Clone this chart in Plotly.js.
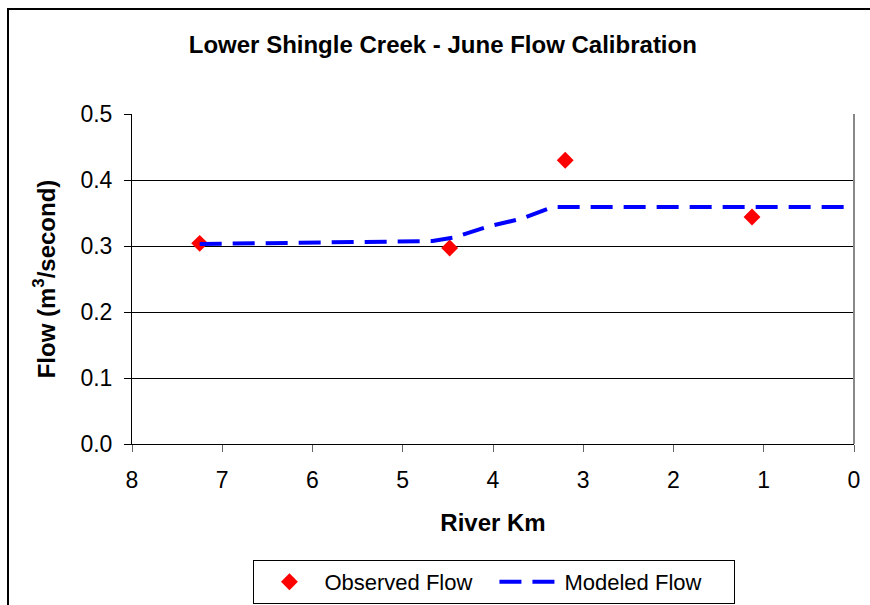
<!DOCTYPE html>
<html>
<head>
<meta charset="utf-8">
<script src="https://cdn.plot.ly/plotly-3.0.1.min.js"></script>
<style>html,body{margin:0;padding:0;background:#fff;}#chart{width:870px;height:605px;}</style>
</head>
<body>
<div id="chart"></div>
<script>
// Observed flow (river km, m3/s)
const observedKm = [7.25, 4.48, 3.20, 1.13];
const observedFlow = [0.304, 0.297, 0.430, 0.344];

// Modeled flow (river km, m3/s)
const modeledKm = [7.25, 6.70, 5.42, 4.67, 4.43, 4.04, 3.68, 3.34, 0.00];
const modeledFlow = [0.303, 0.304, 0.3075, 0.3075, 0.313, 0.330, 0.3415, 0.359, 0.359];

const xTicks = [8, 7, 6, 5, 4, 3, 2, 1, 0];
const yTicks = [0.0, 0.1, 0.2, 0.3, 0.4, 0.5];
const yTickText = ['0.0', '0.1', '0.2', '0.3', '0.4', '0.5'];

const FONT = 'Liberation Sans, Arial, sans-serif';

const traces = [
  {
    x: observedKm, y: observedFlow, name: 'Observed Flow',
    type: 'scatter', mode: 'markers',
    marker: {symbol: 'diamond', size: 13, color: '#ff0000'}
  },
  {
    x: modeledKm, y: modeledFlow, name: 'Modeled Flow',
    type: 'scatter', mode: 'lines',
    line: {color: '#0000ff', width: 4, dash: '22px,11px'}
  }
];

const layout = {
  width: 870, height: 605,
  margin: {l: 132, r: 16, t: 114, b: 161, autoexpand: false},
  paper_bgcolor: '#ffffff', plot_bgcolor: '#ffffff',
  font: {family: FONT, color: '#000000', size: 23},
  title: {
    text: '<b>Lower Shingle Creek - June Flow Calibration</b>',
    font: {family: FONT, size: 24, color: '#000'},
    x: 0.509, xanchor: 'center', y: 1 - 45 / 605, yanchor: 'middle'
  },
  xaxis: {
    range: [8, 0], tickvals: xTicks, ticktext: xTicks.map(String),
    showgrid: false, zeroline: false,
    showline: true, linecolor: '#000', linewidth: 1, mirror: false,
    ticks: 'outside', ticklen: 7, tickcolor: '#666', tickwidth: 1,
    ticklabelstandoff: 8,
    tickfont: {size: 23, family: FONT},
    title: {text: '<b>River Km</b>', font: {size: 24, family: FONT}, standoff: 22}
  },
  yaxis: {
    range: [0, 0.5], tickvals: yTicks, ticktext: yTickText,
    showgrid: true, gridcolor: '#000', gridwidth: 1, zeroline: false,
    showline: true, linecolor: '#000', linewidth: 1,
    ticks: 'outside', ticklen: 7, tickcolor: '#000',
    ticklabelstandoff: 7,
    tickfont: {size: 23, family: FONT},
    title: {text: '<b>Flow (m<sup>3</sup>/second)</b>', font: {size: 24, family: FONT}, standoff: 18}
  },
  showlegend: true,
  legend: {
    orientation: 'h', x: 0.502, xanchor: 'center',
    yref: 'container', y: 1 - 560 / 605, yanchor: 'top',
    bordercolor: '#000', borderwidth: 1, bgcolor: '#fff',
    font: {size: 22, family: FONT}, itemwidth: 60, entrywidth: 165
  },
  shapes: [
    {type: 'line', xref: 'paper', yref: 'paper', x0: 1, x1: 1, y0: 0, y1: 1,
     line: {color: '#888', width: 2}},
    {type: 'rect', xref: 'paper', yref: 'paper',
     x0: (8 - 132) / 722, x1: 1.2, y0: -0.7, y1: 1 + (114 - 9) / 330,
     line: {color: '#000', width: 2}, fillcolor: 'rgba(0,0,0,0)', layer: 'below'}
  ]
};

Plotly.newPlot('chart', traces, layout, {staticPlot: true, displayModeBar: false});
</script>
</body>
</html>
